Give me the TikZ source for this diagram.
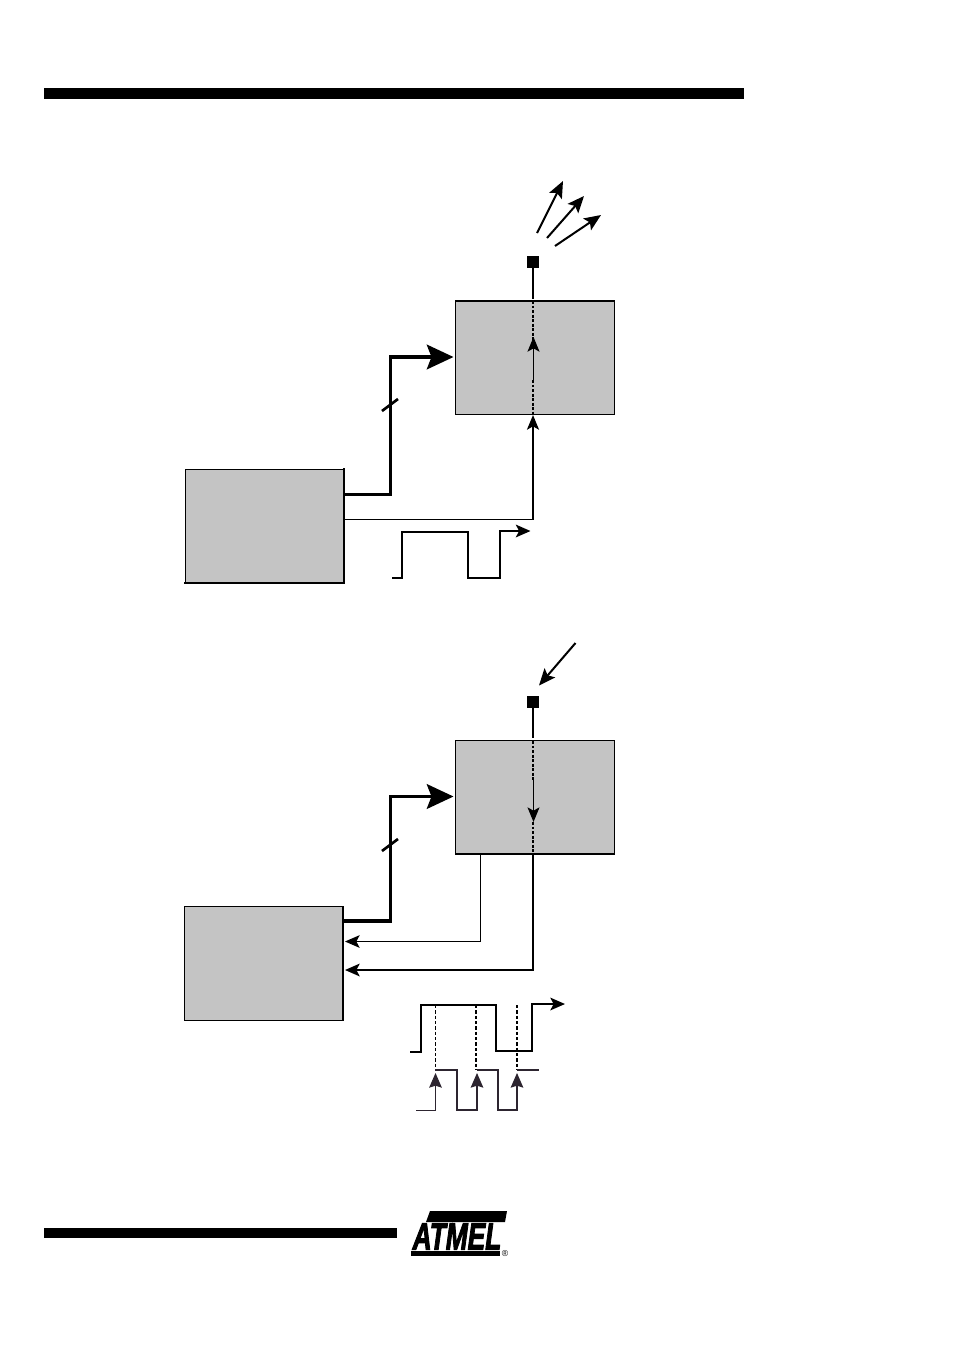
\documentclass[tikz,border=0pt]{standalone}
\usepackage{fontspec}
\setmainfont{Liberation Sans}
\usetikzlibrary{arrows.meta}
\definecolor{boxgray}{HTML}{C4C4C4}
\definecolor{wavedark}{HTML}{2D2530}
\tikzset{
  x=0.75pt,y=-0.75pt,
  block/.style={draw=black,fill=boxgray,line width=0.9pt,minimum width=119pt,minimum height=85pt,inner sep=0pt,outer sep=0pt},
  edge/.style={line width=1.5pt,line cap=rect},
  pad/.style={fill=black,minimum width=9pt,minimum height=9pt,inner sep=0pt,outer sep=0pt},
  rule/.style={fill=black,draw=none},
  bus/.style={line width=2.6pt,line join=miter},
  bushead/.style={-{Stealth[length=20pt,width=18.5pt,inset=3.5pt]}},
  sig/.style={line width=1.5pt,line join=miter},
  thin sig/.style={line width=0.75pt,line join=miter},
  tipped/.style={-{Stealth[length=11pt,width=9.5pt,inset=2.5pt]}},
  raytip/.style={-{Stealth[length=12.5pt,width=10.5pt,inset=2.5pt]}},
  smalltip/.style={-{Stealth[length=11pt,width=9pt,inset=2.5pt]}},
  dotted sig/.style={line width=1.5pt,dash pattern=on 2.2pt off 1.2pt},
  darktip/.style={-{Stealth[length=11pt,width=9.5pt,inset=1.5pt]},wavedark},
  wave/.style={line width=1.5pt,line join=miter},
  darkwave/.style={line width=1.5pt,line join=miter,draw=wavedark},
}
\begin{document}
\begin{tikzpicture}
\useasboundingbox (0,0) rectangle (954,1350);
\fill[white] (0,0) rectangle (954,1350);
% rules
\fill[rule] (44,88) rectangle (744,99);
\fill[rule] (44,1228) rectangle (397,1238);

% upper circuit
\node[block] (ctrlA) at (535,357.5) {};
\node[block] (mcuA) at (264.5,526) {};
\draw[edge] (ctrlA.north west) -- (ctrlA.north east);
\draw[edge] (mcuA.north east) -- (mcuA.south east) -- (mcuA.south west);
\node[pad] (padA) at (533,262) {};
\coordinate (aTop) at (533,301);
\coordinate (aBot) at (533,414);
\coordinate (aMidB) at (533,380);
\draw[sig] (padA) -- (533,299);
\draw[dotted sig] (aTop) -- (533,340);
\draw[thin sig,smalltip] (533.5,380) -- (533.5,337);
\draw[dotted sig] (aMidB) -- (aBot);
\draw[sig] (533,519.5) -- (533,428);
\draw[sig,smalltip] (533,430) -- (533,415);
\draw[thin sig] (344.6,519.5) -- (533,519.5);
\draw[bus,bushead] (344.6,494.5) -- (390.5,494.5) -- (390.5,357) -- (453.5,357);
\draw[line width=2pt] (382,411) -- (398,399);
\draw[sig,raytip] (537,233) -- (563,181);
\draw[sig,raytip] (547,238) -- (584,196);
\draw[sig,raytip] (555,246) -- (601,215);
\draw[wave,tipped] (392,578) -- (402,578) -- (402,532) -- (468,532) -- (468,578) -- (500,578) -- (500,531) -- (530.5,531);

% lower circuit
\node[block] (ctrlB) at (535,797.5) {};
\node[block] (mcuB) at (263.5,963.5) {};
\draw[edge] (ctrlB.south west) -- (ctrlB.south east);
\draw[edge] (mcuB.north east) -- (mcuB.south east);
\node[pad] (padB) at (533,702) {};
\coordinate (bTop) at (533,741);
\coordinate (bBot) at (533,854);
\draw[sig,raytip] (575.5,643) -- (539,685.5);
\draw[sig] (padB) -- (533,738);
\draw[dotted sig] (bTop) -- (533,780);
\draw[thin sig,smalltip] (533.5,780) -- (533.5,822);
\draw[dotted sig] (533,822) -- (bBot);
\draw[sig,tipped] (bBot) -- (533,970) -- (345,970);
\draw[thin sig,tipped] (480.5,854) -- (480.5,941.5) -- (345,941.5);
\draw[bus,bushead] (344,921) -- (390.5,921) -- (390.5,796.5) -- (453.5,796.5);
\draw[line width=2pt] (382,851) -- (398,839);

% lower waveforms
\draw[wave,tipped] (410,1052) -- (421,1052) -- (421,1005) -- (496,1005) -- (496,1051) -- (532,1051) -- (532,1004) -- (565,1004);
\draw[line width=0.75pt,dash pattern=on 2.5pt off 1.5pt] (435.5,1005) -- (435.5,1070);
\draw[line width=1.5pt,dash pattern=on 2.5pt off 1.5pt] (476,1005) -- (476,1070);
\draw[line width=1.5pt,dash pattern=on 2.5pt off 1.5pt] (517,1005) -- (517,1070);
\draw[darkwave,line width=0.75pt] (416,1110.5) -- (435.5,1110.5) -- (435.5,1089);
\draw[darkwave] (435,1070) -- (457,1070) -- (457,1110) -- (477,1110) -- (477,1089);
\draw[darkwave] (477,1070) -- (498,1070) -- (498,1110) -- (517,1110) -- (517,1089);
\draw[darkwave] (517,1070) -- (539,1070);
\draw[line width=0.8pt,darktip] (435.5,1090) -- (435.5,1073);
\draw[line width=0.8pt,darktip] (477,1090) -- (477,1073);
\draw[line width=0.8pt,darktip] (517,1090) -- (517,1073);

% logo
\fill[black] (430,1211) -- (507,1211) -- (505,1222) -- (426,1222) -- cycle;
\fill[black] (411,1251) -- (500,1251) -- (500,1256) -- (411,1256) -- cycle;
\node[inner sep=0pt,anchor=center] (logo) at (457,1236.5) {\scalebox{1.36}[1.95]{\addfontfeature{FakeBold=3}\bfseries\itshape\fontsize{14.5pt}{14.5pt}\selectfont ATMEL}};
\node[inner sep=0pt] (reg) at (505,1253) {\fontsize{6.5pt}{6.5pt}\selectfont ®};
\end{tikzpicture}
\end{document}
